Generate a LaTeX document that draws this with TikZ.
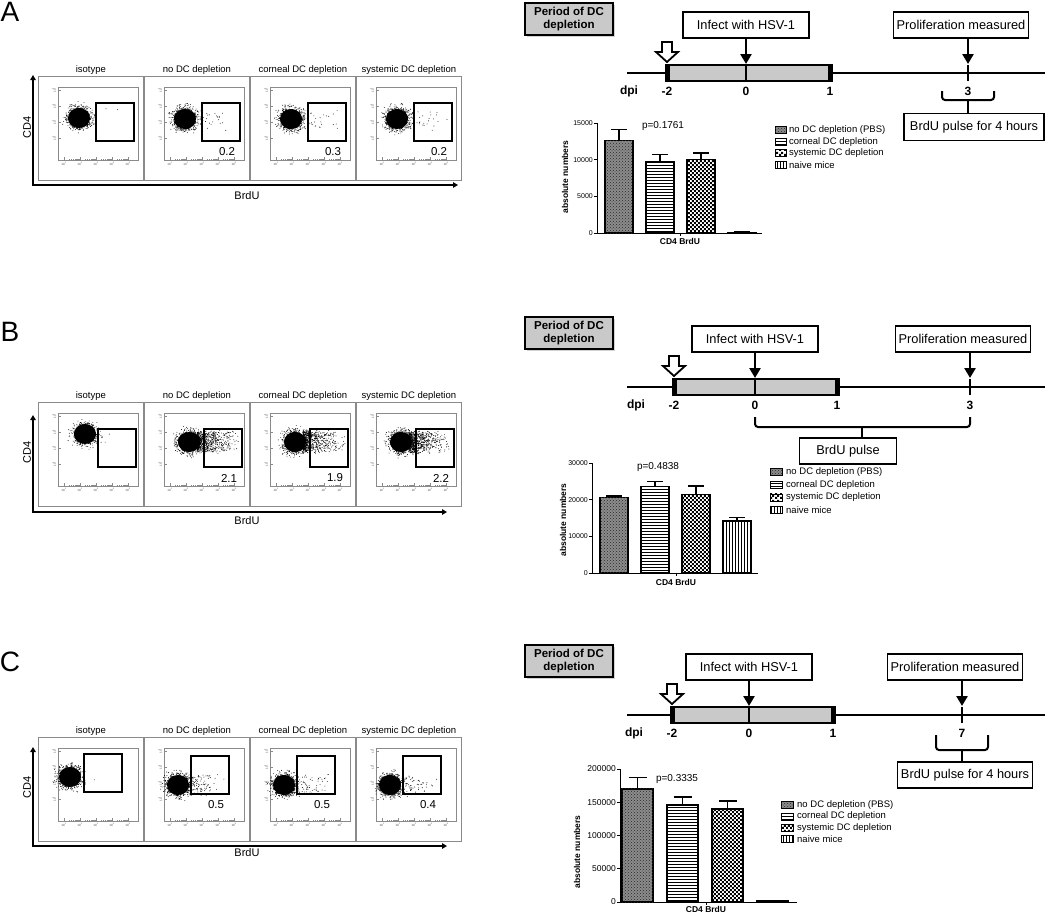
\documentclass[tikz,border=0pt]{standalone}
\usepackage{fontspec}
\setmainfont{Liberation Sans}
\usetikzlibrary{arrows.meta,patterns,shadows}
\definecolor{deplgray}{HTML}{C9C9C9}
\definecolor{framegray}{HTML}{8A8A8A}
\definecolor{pbsgray}{HTML}{8C8C8C}

\pgfdeclarepatternformonly{finechecker}{\pgfpointorigin}{\pgfqpoint{4.4pt}{4.4pt}}{\pgfqpoint{4.4pt}{4.4pt}}{%
  \pgfpathrectangle{\pgfpointorigin}{\pgfqpoint{2.2pt}{2.2pt}}%
  \pgfpathrectangle{\pgfqpoint{2.2pt}{2.2pt}}{\pgfqpoint{2.2pt}{2.2pt}}%
  \pgfusepath{fill}}

\tikzset{
  panellab/.style={font=\fontsize{28}{28}\selectfont, inner sep=0pt},
  flowframe/.style={draw=framegray, line width=0.8pt, minimum width=105pt, minimum height=104pt, anchor=north west, inner sep=0pt},
  flowtitle/.style={anchor=south, inner sep=1.5pt, font=\fontsize{9.5}{10}\selectfont},
  flowinner/.style={draw=framegray, line width=0.5pt},
  flowtick/.style={framegray, line width=0.4pt},
  tinylab/.style={font=\fontsize{3}{3}\selectfont, inner sep=0pt, text=black!70},
  gate/.style={draw, line width=1.3pt},
  gateval/.style={font=\fontsize{11.5}{12}\selectfont, inner sep=0pt},
  flowaxis/.style={line width=1.5pt, {Triangle[length=5pt,width=5.5pt]}-{Triangle[length=5pt,width=5.5pt]}},
  axlab/.style={font=\fontsize{11}{11}\selectfont, inner sep=0pt},
  tline/.style={line width=2.8pt},
  deplbar/.style={draw, fill=deplgray, line width=2.4pt},
  barend/.style={line width=5pt},
  perbox/.style={draw, fill=deplgray, line width=2.5pt, align=center, minimum width=88pt, minimum height=32pt, inner sep=1pt, font=\bfseries\fontsize{11.5}{12.5}\selectfont, drop shadow={shadow xshift=2pt, shadow yshift=-2pt, opacity=0.35}},
  evbox/.style={draw, fill=white, line width=1.1pt, minimum height=26pt, font=\fontsize{12.8}{13}\selectfont},
  evarrow/.style={line width=2.5pt, -{Triangle[length=10pt,width=11pt]}},
  hollow/.style={draw, fill=white, line width=1.8pt, line join=miter},
  daylab/.style={font=\bfseries\fontsize{12}{12}\selectfont},
  brk/.style={line width=2pt, rounded corners=3pt},
  chartaxis/.style={line width=0.9pt},
  ticklab/.style={anchor=east, inner sep=0pt, font=\fontsize{7}{7}\selectfont},
  ylab/.style={rotate=90, font=\bfseries\fontsize{8.5}{8.5}\selectfont},
  xlab/.style={font=\bfseries\fontsize{8.5}{8.5}\selectfont},
  pval/.style={font=\fontsize{10}{10}\selectfont},
  bar/.style={draw, line width=1.2pt},
  errbar/.style={line width=1.2pt},
  swatch/.style={draw, line width=0.8pt},
  legtext/.style={anchor=west, inner sep=0pt, font=\fontsize{9.5}{10}\selectfont},
  pbs/.style={fill=pbsgray, postaction={pattern=crosshatch dots, pattern color=black!85}},
  corn/.style={pattern=horizontal lines},
  syst/.style={pattern=finechecker},
  naive/.style={pattern=vertical lines},
}

% #1 name, #2/#3 frame corner, #4 title, #5 gate value, #6 blob centre, #7 gate corner, #8 halo dots, #9 dots towards gate
\newcommand{\flowplot}[9]{%
  \begin{scope}[shift={(#2,#3)}]
    \node[flowframe] (#1) at (0,0) {};
    \node[flowtitle] (#1-t) at (#1.north) {#4};
    \draw[flowinner] (20,11) rectangle (100,84);
    \foreach \e in {1,...,5}{
      \pgfmathsetmacro\tx{10+16*\e}
      \draw[flowtick] (\tx,84) -- (\tx,81);
      \node[tinylab, anchor=north] (#1-x\e) at (\tx,86) {10\textsuperscript{\e}};
    }
    \foreach \e in {1,...,4}{\foreach \m in {2,...,9}{\draw[flowtick] ({10+16*\e+16*log10(\m)},84) -- ++(0,-1.3);}}
    \foreach \e in {2,...,5}{
      \pgfmathsetmacro\ty{94-16*\e}
      \draw[flowtick] (20,\ty) -- (23,\ty);
      \node[tinylab, rotate=90, anchor=south] (#1-y\e) at (18,\ty) {10\textsuperscript{\e}};
    }
    \foreach \e in {2,3,4}{\foreach \m in {2,...,9}{\draw[flowtick] (20,{94-16*\e-16*log10(\m)}) -- ++(1.3,0);}}
    \pgfmathtruncatemacro\flowseed{#2*7+#3}
    \pgfmathsetseed{\flowseed}
    \begin{scope}[shift={(#6)}]
      \fill (0,0) ellipse [x radius=11pt, y radius=10pt];
      \foreach \i in {1,...,#8}{
        \pgfmathsetmacro\ang{360*rnd}
        \pgfmathsetmacro\rad{9+8*rnd*rnd}
        \fill ({1.1*\rad*cos(\ang)},{\rad*sin(\ang)}) circle (0.45pt);
      }
      \foreach \i in {1,...,#9}{
        \pgfmathsetmacro\dx{8+44*rnd*rnd}
        \pgfmathsetmacro\dy{12*rand*(1-0.4*rnd)}
        \fill (\dx,\dy) circle (0.45pt);
      }
    \end{scope}
    \draw[gate] (#7) rectangle ++(38,38);
    \node[gateval, xshift=25pt, yshift=-49pt] (#1-v) at (#7) {#5};
  \end{scope}}

% #1 name, #2 y of line, #3 day -2, #4 day 0, #5 day 1, #6 measured day, #7 its label
\newcommand{\dctimeline}[7]{%
  \coordinate (#1-l) at (627,#2);
  \coordinate (#1-r) at (1045,#2);
  \draw[tline] (#1-l) -- (#1-r);
  \draw[deplbar] (#3,{#2-8}) rectangle (#5,{#2+8});
  \draw[barend] (#3,{#2-9}) -- (#3,{#2+9});
  \draw[barend] (#5,{#2-9}) -- (#5,{#2+9});
  \draw[tline] (#4,{#2-8}) -- (#4,{#2+8});
  \draw[tline] (#6,{#2-8}) -- (#6,{#2+8});
  \node[perbox] (#1-per) at (569,{#2-54}) {Period of DC\\depletion};
  \node[evbox, minimum width=126pt] (#1-inf) at (#4,{#2-48}) {Infect with HSV-1};
  \node[evbox, minimum width=135pt] (#1-pro) at ({#6-7},{#2-48}) {Proliferation measured};
  \coordinate (#1-t0) at (#4,{#2-9});
  \coordinate (#1-tm) at (#6,{#2-9});
  \draw[evarrow] (#1-inf) -- (#1-t0);
  \draw[evarrow] (#1-pro.south -| #1-tm) -- (#1-tm);
  \draw[hollow] ({#3-5},{#2-31}) -- ({#3+5},{#2-31}) -- ({#3+5},{#2-21}) -- ({#3+11},{#2-21})
    -- (#3,{#2-11}) -- ({#3-11},{#2-21}) -- ({#3-5},{#2-21}) -- cycle;
  \node[daylab] (#1-dpi) at ({#3-38},{#2+18}) {dpi};
  \node[daylab] (#1-dm2) at (#3,{#2+18}) {-2};
  \node[daylab] (#1-d0) at (#4,{#2+18}) {0};
  \node[daylab] (#1-d1) at (#5,{#2+18}) {1};
  \node[daylab] (#1-dm) at (#6,{#2+18}) {#7};
}

\begin{document}
\begin{tikzpicture}[x=1pt,y=-1pt]
\useasboundingbox (0,0) rectangle (1050,913);
\fill[white] (0,0) rectangle (1050,913);

\node[panellab] (labA) at (10,12) {A};
\node[panellab] (labB) at (10,332) {B};
\node[panellab] (labC) at (10,662) {C};

% flow plots
\flowplot{a1}{38}{76}{isotype}{}{41,42}{58,27}{260}{4}
\flowplot{a2}{144}{76}{no DC depletion}{0.2}{41,43}{58,27}{280}{45}
\flowplot{a3}{250}{76}{corneal DC depletion}{0.3}{41,43}{58,27}{280}{50}
\flowplot{a4}{356}{76}{systemic DC depletion}{0.2}{41,43}{58,27}{280}{45}
\coordinate (a-org) at (33,185);
\coordinate (a-ytip) at (33,75);
\coordinate (a-xtip) at (458,185);
\draw[flowaxis] (a-ytip) -- (a-org) -- (a-xtip);
\node[axlab, rotate=90] (a-cd4) at (27,127) {CD4};
\node[axlab] (a-brdu) at (247,196) {BrdU};

\flowplot{b1}{38}{402}{isotype}{}{47,32}{60,27}{220}{6}
\flowplot{b2}{144}{402}{no DC depletion}{2.1}{45,40}{60,27}{300}{650}
\flowplot{b3}{250}{402}{corneal DC depletion}{1.9}{45,40}{60,27}{300}{600}
\flowplot{b4}{356}{402}{systemic DC depletion}{2.2}{45,40}{60,27}{300}{650}
\coordinate (b-org) at (33,512);
\coordinate (b-ytip) at (33,415);
\coordinate (b-xtip) at (447,512);
\draw[flowaxis] (b-ytip) -- (b-org) -- (b-xtip);
\node[axlab, rotate=90] (b-cd4) at (27,452) {CD4};
\node[axlab] (b-brdu) at (247,521) {BrdU};

\flowplot{c1}{38}{737}{isotype}{}{32,40}{46,17}{260}{3}
\flowplot{c2}{144}{737}{no DC depletion}{0.5}{34,48}{47,19}{280}{140}
\flowplot{c3}{250}{737}{corneal DC depletion}{0.5}{34,48}{47,19}{280}{120}
\flowplot{c4}{356}{737}{systemic DC depletion}{0.4}{34,48}{47,19}{280}{100}
\coordinate (c-org) at (33,846);
\coordinate (c-ytip) at (33,747);
\coordinate (c-xtip) at (447,846);
\draw[flowaxis] (c-ytip) -- (c-org) -- (c-xtip);
\node[axlab, rotate=90] (c-cd4) at (27,787) {CD4};
\node[axlab] (c-brdu) at (247,853) {BrdU};

% time lines
\dctimeline{ta}{73}{667}{746}{830}{968}{3}
\coordinate (ta-bl) at (942,91);
\coordinate (ta-br) at (994,91);
\coordinate (ta-bm) at (968,100);
\node[evbox, minimum width=140pt, minimum height=27pt] (ta-pulse) at (974,127) {BrdU pulse for 4 hours};
\draw[brk] (ta-bl) |- (ta-bm) -| (ta-br);
\draw[brk] (ta-bm) -- (ta-bm |- ta-pulse.north);

\dctimeline{tb}{387}{674}{755}{837}{970}{3}
\coordinate (tb-bl) at (755,417);
\coordinate (tb-br) at (970,417);
\coordinate (tb-bm) at (862,427);
\node[evbox, minimum width=97pt] (tb-pulse) at (848,451) {BrdU pulse};
\draw[brk] (tb-bl) |- (tb-bm) -| (tb-br);
\draw[brk] (tb-bm) -- (tb-bm |- tb-pulse.north);

\dctimeline{tc}{715}{672}{749}{833}{962}{7}
\coordinate (tc-bl) at (936,735);
\coordinate (tc-br) at (988,735);
\coordinate (tc-bm) at (962,750);
\node[evbox, minimum width=135pt] (tc-pulse) at (965,775) {BrdU pulse for 4 hours};
\draw[brk] (tc-bl) |- (tc-bm) -| (tc-br);
\draw[brk] (tc-bm) -- (tc-bm |- tc-pulse.north);

% bar chart A
\draw[chartaxis] (597,123) -- (597,233) -- (762,233);
\draw[chartaxis] (680,233) -- (680,236);
\foreach \v/\l in {0/0,5/5000,10/10000,15/15000}{
  \draw[chartaxis] (597,{233-7.333*\v}) -- (594,{233-7.333*\v});
  \node[ticklab] (ca-y\v) at (593,{233-7.333*\v}) {\l};
}
\foreach \i/\v/\e/\p in {0/12.6/1.5/pbs,1/9.8/0.9/corn,2/10.0/0.9/syst,3/0.12/0.05/naive}{
  \draw[bar,\p] ({605+41*\i},233) rectangle ++(28,{-7.333*\v});
  \draw[errbar] ({619+41*\i},{233-7.333*\v}) -- ++(0,{-7.333*\e}) ++(-8,0) -- ++(16,0);
}
\node[ylab] (ca-yl) at (565,177) {absolute numbers};
\node[xlab] (ca-xl) at (680,241) {CD4 BrdU};
\node[pval] (ca-p) at (663,126) {p=0.1761};
\foreach \p/\txt [count=\k] in {pbs/no DC depletion (PBS),corn/corneal DC depletion,syst/systemic DC depletion,naive/naive mice}{
  \draw[swatch,\p] (775,{114.9+11.6*\k}) rectangle ++(11,7);
  \node[legtext] (ca-leg\k) at (789,{118.4+11.6*\k}) {\txt};
}

% bar chart B
\draw[chartaxis] (592,463) -- (592,573) -- (758,573);
\draw[chartaxis] (676,573) -- (676,576);
\foreach \v/\l in {0/0,10/10000,20/20000,30/30000}{
  \draw[chartaxis] (592,{573-3.667*\v}) -- (589,{573-3.667*\v});
  \node[ticklab] (cb-y\v) at (588,{573-3.667*\v}) {\l};
}
\foreach \i/\v/\e/\p in {0/20.6/0.4/pbs,1/23.6/1.3/corn,2/21.3/2.4/syst,3/14.2/1.0/naive}{
  \draw[bar,\p] ({600+41*\i},573) rectangle ++(28,{-3.667*\v});
  \draw[errbar] ({614+41*\i},{573-3.667*\v}) -- ++(0,{-3.667*\e}) ++(-8,0) -- ++(16,0);
}
\node[ylab] (cb-yl) at (563,520) {absolute numbers};
\node[xlab] (cb-xl) at (676,582) {CD4 BrdU};
\node[pval] (cb-p) at (658,467) {p=0.4838};
\foreach \p/\txt [count=\k] in {pbs/no DC depletion (PBS),corn/corneal DC depletion,syst/systemic DC depletion,naive/naive mice}{
  \draw[swatch,\p] (770,{455.8+12.7*\k}) rectangle ++(12,7);
  \node[legtext] (cb-leg\k) at (786,{459.3+12.7*\k}) {\txt};
}

% bar chart C
\draw[chartaxis] (620,769) -- (620,902) -- (797,902);
\draw[chartaxis] (706,902) -- (706,905);
\foreach \v/\l in {0/0,50/50000,100/100000,150/150000,200/200000}{
  \draw[chartaxis] (620,{902-0.665*\v}) -- (617,{902-0.665*\v});
  \node[ticklab, font=\fontsize{8.5}{8.5}\selectfont] (cc-y\v) at (616,{902-0.665*\v}) {\l};
}
\foreach \i/\v/\e/\p in {0/170/17/pbs,1/146/12/corn,2/140/12/syst,3/2/0.5/naive}{
  \draw[bar,\p] ({622+45*\i},902) rectangle ++(31,{-0.665*\v});
  \draw[errbar] ({637.5+45*\i},{902-0.665*\v}) -- ++(0,{-0.665*\e}) ++(-9,0) -- ++(18,0);
}
\node[ylab] (cc-yl) at (577,852) {absolute numbers};
\node[xlab] (cc-xl) at (706,909) {CD4 BrdU};
\node[pval] (cc-p) at (677,779) {p=0.3335};
\foreach \p/\txt [count=\k] in {pbs/no DC depletion (PBS),corn/corneal DC depletion,syst/systemic DC depletion,naive/naive mice}{
  \draw[swatch,\p] (781,{790.2+11.4*\k}) rectangle ++(12,7);
  \node[legtext] (cc-leg\k) at (797,{793.7+11.4*\k}) {\txt};
}
\end{tikzpicture}
\end{document}
